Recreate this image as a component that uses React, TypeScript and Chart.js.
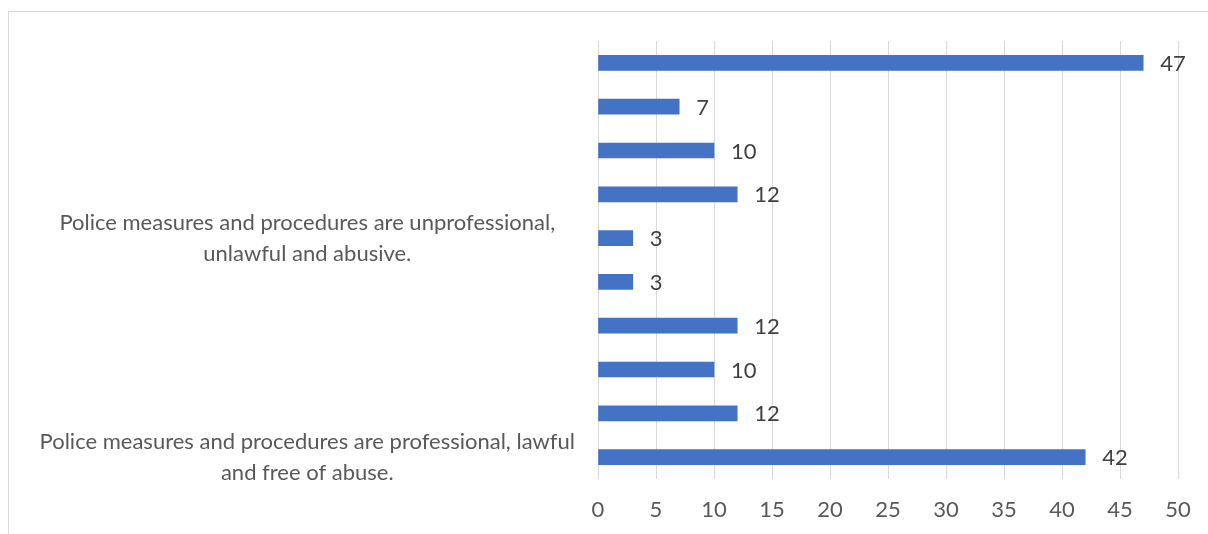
import React, { useEffect, useRef } from "react";
import { Chart, registerables } from "chart.js";

Chart.register(...registerables);

const categories: (string | string[])[] = [
  "",
  "",
  "",
  "",
  ["Police measures and procedures are unprofessional,", "unlawful and abusive."],
  "",
  "",
  "",
  "",
  ["Police measures and procedures are professional, lawful", "and free of abuse."],
];
const values = [47, 7, 10, 12, 3, 3, 12, 10, 12, 42];
const xMin = 0;
const xMax = 50;
const xStep = 5;

const FONT = "Lato";
const FONT_SIZE = 22;

const dataLabelPlugin = {
  id: "dataLabels",
  afterDatasetsDraw(chart: any) {
    const ctx = chart.ctx;
    const meta = chart.getDatasetMeta(0);
    ctx.save();
    ctx.font = `${FONT_SIZE}px ${FONT}`;
    ctx.fillStyle = "#404040";
    ctx.textAlign = "left";
    ctx.textBaseline = "middle";
    meta.data.forEach((bar: any, i: number) => {
      ctx.fillText(String(values[i]), bar.x + 17, bar.y + 1);
    });
    ctx.restore();
  },
};

export default function App() {
  const ref = useRef<HTMLCanvasElement>(null);
  useEffect(() => {
    if (!ref.current) return;
    const chart = new Chart(ref.current, {
      type: "bar",
      data: {
        labels: categories,
        datasets: [
          {
            data: values,
            backgroundColor: "#4472C4",
            borderWidth: 0,
            barThickness: 15,
          },
        ],
      },
      options: {
        indexAxis: "y",
        animation: false,
        responsive: false,
        maintainAspectRatio: false,
        events: [],
        layout: { padding: { left: 0, right: 30, top: 29, bottom: 0 } },
        plugins: {
          legend: { display: false },
          tooltip: { enabled: false },
          title: { display: false },
        },
        scales: {
          x: {
            min: xMin,
            max: xMax,
            border: { display: false },
            grid: { color: "#d9d9d9", lineWidth: 1, drawTicks: false },
            ticks: {
              stepSize: xStep,
              color: "#595959",
              font: { family: FONT, size: FONT_SIZE },
              padding: 18,
            },
            afterFit: (s: any) => {
              s.height = 55;
              s.paddingLeft = 0;
              s.paddingRight = 0;
            },
          },
          y: {
            border: { display: false },
            grid: { display: false, drawTicks: false },
            ticks: {
              autoSkip: false,
              color: "#595959",
              font: { family: FONT, size: FONT_SIZE, lineHeight: 1.4 },
              padding: 23,
              crossAlign: "center",
            },
            afterFit: (s: any) => {
              s.width = 589;
              s.paddingTop = 0;
              s.paddingBottom = 0;
            },
          },
        },
      },
      plugins: [dataLabelPlugin],
    });
    return () => chart.destroy();
  }, []);

  return (
    <div
      style={{
        position: "absolute",
        left: 8,
        top: 11,
        width: 1210,
        height: 530,
        borderLeft: "1px solid #d9d9d9",
        borderTop: "1px solid #d9d9d9",
        background: "#fff",
      }}
    >
      <canvas ref={ref} width={1199} height={522} style={{ display: "block" }} />
    </div>
  );
}
